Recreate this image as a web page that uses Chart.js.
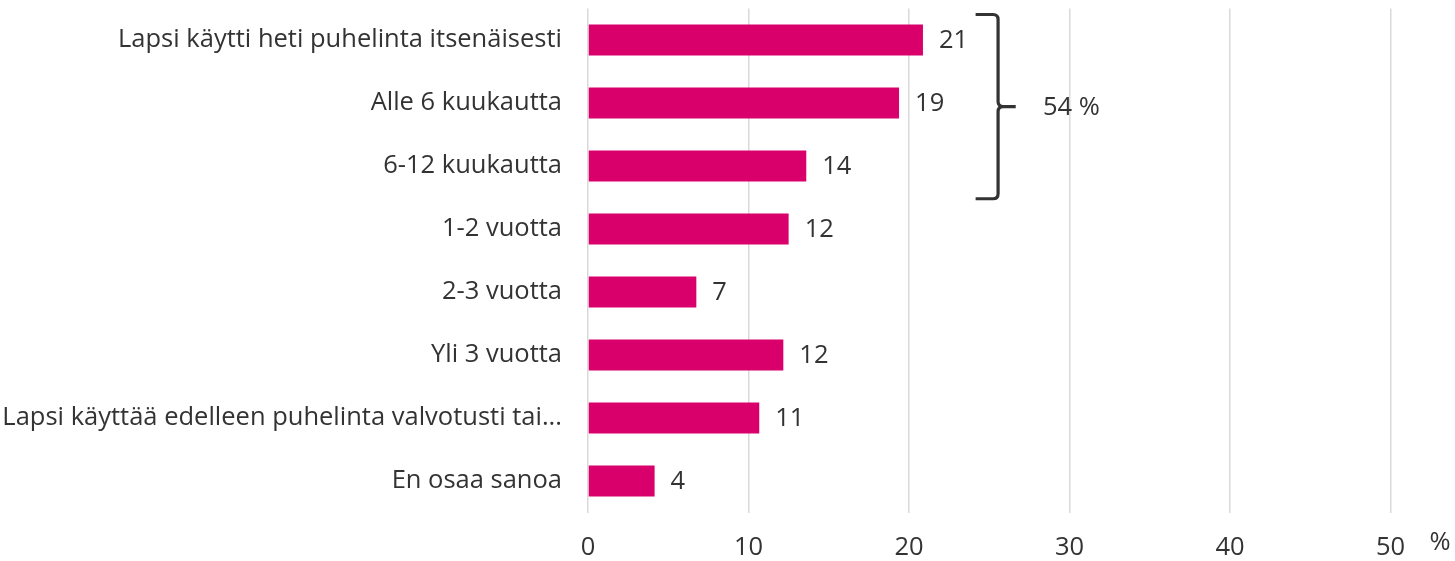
<!DOCTYPE html>
<html><head><meta charset="utf-8">
<script src="https://cdn.jsdelivr.net/npm/chart.js@4"></script>
<style>html,body{margin:0;padding:0;background:#fff}</style>
</head><body>
<canvas id="c" width="1455" height="561"></canvas>
<script>
const categories = [
  'Lapsi käytti heti puhelinta itsenäisesti',
  'Alle 6 kuukautta',
  '6-12 kuukautta',
  '1-2 vuotta',
  '2-3 vuotta',
  'Yli 3 vuotta',
  'Lapsi käyttää edelleen puhelinta valvotusti tai...',
  'En osaa sanoa'
];
const values = [20.87, 19.38, 13.6, 12.5, 6.75, 12.17, 10.67, 4.15];
const valueLabels = ['21', '19', '14', '12', '7', '12', '11', '4'];
const xTicks = [0, 10, 20, 30, 40, 50];
const groupFrom = 0;
const groupTo = 2;
const groupLabel = '54 %';
const axisUnit = '%';

const FONT = '"Open Sans", sans-serif';
const FS = 25.5;
const TXT = '#333333';

const overlay = {
  id: 'overlay',
  afterDatasetsDraw(chart) {
    const ctx = chart.ctx;
    const xs = chart.scales.x, ys = chart.scales.y;
    const meta = chart.getDatasetMeta(0);
    ctx.save();
    ctx.fillStyle = TXT;
    ctx.font = FS + 'px ' + FONT;
    ctx.textAlign = 'left';
    ctx.textBaseline = 'middle';
    meta.data.forEach((bar, i) => {
      ctx.fillText(valueLabels[i], bar.x + 16, bar.y + 1);
    });
    const step = ys.getPixelForValue(1) - ys.getPixelForValue(0);
    const yTop = ys.getPixelForValue(groupFrom) - step * 0.405;
    const yBot = ys.getPixelForValue(groupTo) + step * 0.52;
    const yMid = (yTop + yBot) / 2;
    const xV = xs.getPixelForValue(25.55);
    const xL = xs.getPixelForValue(24.15);
    const xTip = xs.getPixelForValue(26.65);
    const r = 5;
    ctx.strokeStyle = TXT;
    ctx.lineWidth = 3.2;
    ctx.beginPath();
    ctx.moveTo(xL, yTop);
    ctx.lineTo(xV - r, yTop);
    ctx.quadraticCurveTo(xV, yTop, xV, yTop + r);
    ctx.lineTo(xV, yMid - r);
    ctx.quadraticCurveTo(xV, yMid, xV + r, yMid);
    ctx.lineTo(xTip, yMid);
    ctx.moveTo(xV + r, yMid);
    ctx.quadraticCurveTo(xV, yMid, xV, yMid + r);
    ctx.lineTo(xV, yBot - r);
    ctx.quadraticCurveTo(xV, yBot, xV - r, yBot);
    ctx.lineTo(xL, yBot);
    ctx.stroke();
    ctx.fillText(groupLabel, xs.getPixelForValue(28.35), yMid + 1);
    ctx.textAlign = 'center';
    ctx.fillText(axisUnit, xs.right + 49.5, 543);
    ctx.restore();
  }
};

new Chart(document.getElementById('c'), {
  type: 'bar',
  data: {
    labels: categories,
    datasets: [{
      data: values,
      backgroundColor: '#D9006C',
      borderWidth: 0,
      barPercentage: 0.98,
      categoryPercentage: 0.5
    }]
  },
  options: {
    indexAxis: 'y',
    responsive: false,
    animation: false,
    events: [],
    layout: { padding: { top: 8.5, right: 64.5, left: 0, bottom: 0 } },
    plugins: { legend: { display: false }, tooltip: { enabled: false } },
    scales: {
      x: {
        min: 0, max: 50,
        afterBuildTicks(scale) { scale.ticks = xTicks.map(v => ({ value: v })); },
        afterFit(scale) { scale.height = 48.5; scale.paddingLeft = 0; scale.paddingRight = 0; },
        grid: { color: '#d9d9d9', lineWidth: 1.5, drawTicks: false },
        border: { display: false },
        ticks: { color: TXT, font: { family: FONT, size: FS }, padding: 20, maxRotation: 0 }
      },
      y: {
        afterFit(scale) { scale.width = 588; scale.paddingTop = 0; scale.paddingBottom = 0; },
        grid: { display: false, drawTicks: false },
        border: { display: false },
        ticks: { color: TXT, font: { family: FONT, size: FS }, padding: 26 }
      }
    }
  },
  plugins: [overlay]
});
</script>
</body></html>
